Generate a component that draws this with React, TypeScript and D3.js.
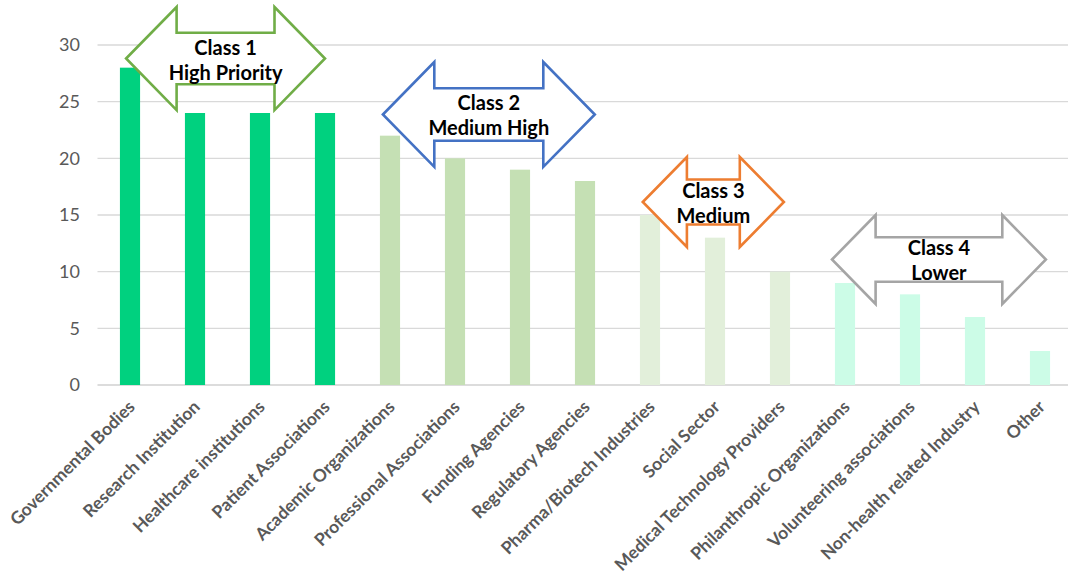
import React from "react";
import * as d3 from "d3";

const categories = [
  "Governmental Bodies",
  "Research Institution",
  "Healthcare institutions",
  "Patient Associations",
  "Academic Organizations",
  "Professional Associations",
  "Funding Agencies",
  "Regulatory Agencies",
  "Pharma/Biotech Industries",
  "Social Sector",
  "Medical Technology Providers",
  "Philanthropic Organizations",
  "Volunteering associations",
  "Non-health related Industry",
  "Other",
];
const values = [28, 24, 24, 24, 22, 20, 19, 18, 15, 13, 10, 9, 8, 6, 3];
const classOf = [0, 0, 0, 0, 1, 1, 1, 1, 2, 2, 2, 3, 3, 3, 3];
const classBarColors = ["#00D17F", "#C5E0B4", "#E2EFDA", "#CCFCE7"];
const yTicks = [0, 5, 10, 15, 20, 25, 30];

// Class annotation arrows, in data units (category index, value)
const classTitles = ["Class 1", "Class 2", "Class 3", "Class 4"];
const classSubtitles = ["High Priority", "Medium High", "Medium", "Lower"];
const arrowColors = ["#70AD47", "#4472C4", "#ED7D31", "#A5A5A5"];
const arrowIdxStart = [-0.06, 3.89, 7.89, 10.8];
const arrowIdxEnd = [3.0, 7.15, 10.06, 14.09];
const arrowValTop = [33.35, 28.5, 20.12, 15.0];
const arrowValBottom = [24.26, 19.24, 12.18, 7.15];

const W = 1068;
const H = 578;

export default function App() {
  const x = d3
    .scaleBand<string>()
    .domain(categories)
    .range([97.5, 1072.5])
    .paddingInner(0.69)
    .paddingOuter(0.345);
  const y = d3.scaleLinear().domain([0, 30]).range([385, 45]);
  const bw = x.bandwidth();
  const cx = (c: string) => (x(c) as number) + bw / 2;
  const idx = d3
    .scaleLinear()
    .domain([0, categories.length - 1])
    .range([cx(categories[0]), cx(categories[categories.length - 1])]);

  const arrowPath = (L: number, R: number, T: number, B: number) => {
    const hgt = B - T;
    const h = 0.49 * hgt;
    const s = 0.25 * hgt;
    const m = (T + B) / 2;
    return [
      [L, m],
      [L + h, T],
      [L + h, T + s],
      [R - h, T + s],
      [R - h, T],
      [R, m],
      [R - h, B],
      [R - h, B - s],
      [L + h, B - s],
      [L + h, B],
    ]
      .map((p, i) => (i === 0 ? "M" : "L") + p[0].toFixed(1) + "," + p[1].toFixed(1))
      .join("") + "Z";
  };

  return (
    <svg
      width={W}
      height={H}
      style={{ position: "absolute", left: 0, top: 0, background: "#fff" }}
      fontFamily="Lato, 'Open Sans', sans-serif"
    >
      {/* gridlines */}
      {yTicks.map((t) => (
        <line
          key={"g" + t}
          x1={97.5}
          x2={1068}
          y1={y(t)}
          y2={y(t)}
          stroke={t === 0 ? "#D0D0D0" : "#D9D9D9"}
          strokeWidth={1.3}
        />
      ))}
      {/* y tick labels */}
      {yTicks.map((t) => (
        <text
          key={"t" + t}
          x={80}
          y={y(t)}
          dy="0.36em"
          textAnchor="end"
          fontSize={18}
          fill="#595959"
        >
          {t}
        </text>
      ))}
      {/* bars */}
      {categories.map((c, i) => (
        <rect
          key={c}
          x={x(c)}
          y={y(values[i])}
          width={bw}
          height={y(0) - y(values[i])}
          fill={classBarColors[classOf[i]]}
        />
      ))}
      {/* category labels */}
      {categories.map((c) => (
        <text
          key={"l" + c}
          transform={`translate(${cx(c) + 6},${408}) rotate(-45)`}
          textAnchor="end"
          fontSize={17.5}
          fontWeight={700}
          fill="#595959"
        >
          {c}
        </text>
      ))}
      {/* class arrows */}
      {classTitles.map((ttl, k) => {
        const L = idx(arrowIdxStart[k]);
        const R = idx(arrowIdxEnd[k]);
        const T = y(arrowValTop[k]);
        const B = y(arrowValBottom[k]);
        const mx = (L + R) / 2;
        const my = (T + B) / 2;
        return (
          <g key={ttl}>
            <path
              d={arrowPath(L, R, T, B)}
              fill="#fff"
              stroke={arrowColors[k]}
              strokeWidth={2.6}
              strokeLinejoin="miter"
            />
            <text
              x={mx}
              y={my - 4}
              textAnchor="middle"
              fontSize={20}
              fontWeight={700}
              fill="#000"
            >
              {ttl}
            </text>
            <text
              x={mx}
              y={my + 21}
              textAnchor="middle"
              fontSize={20}
              fontWeight={700}
              fill="#000"
            >
              {classSubtitles[k]}
            </text>
          </g>
        );
      })}
    </svg>
  );
}
